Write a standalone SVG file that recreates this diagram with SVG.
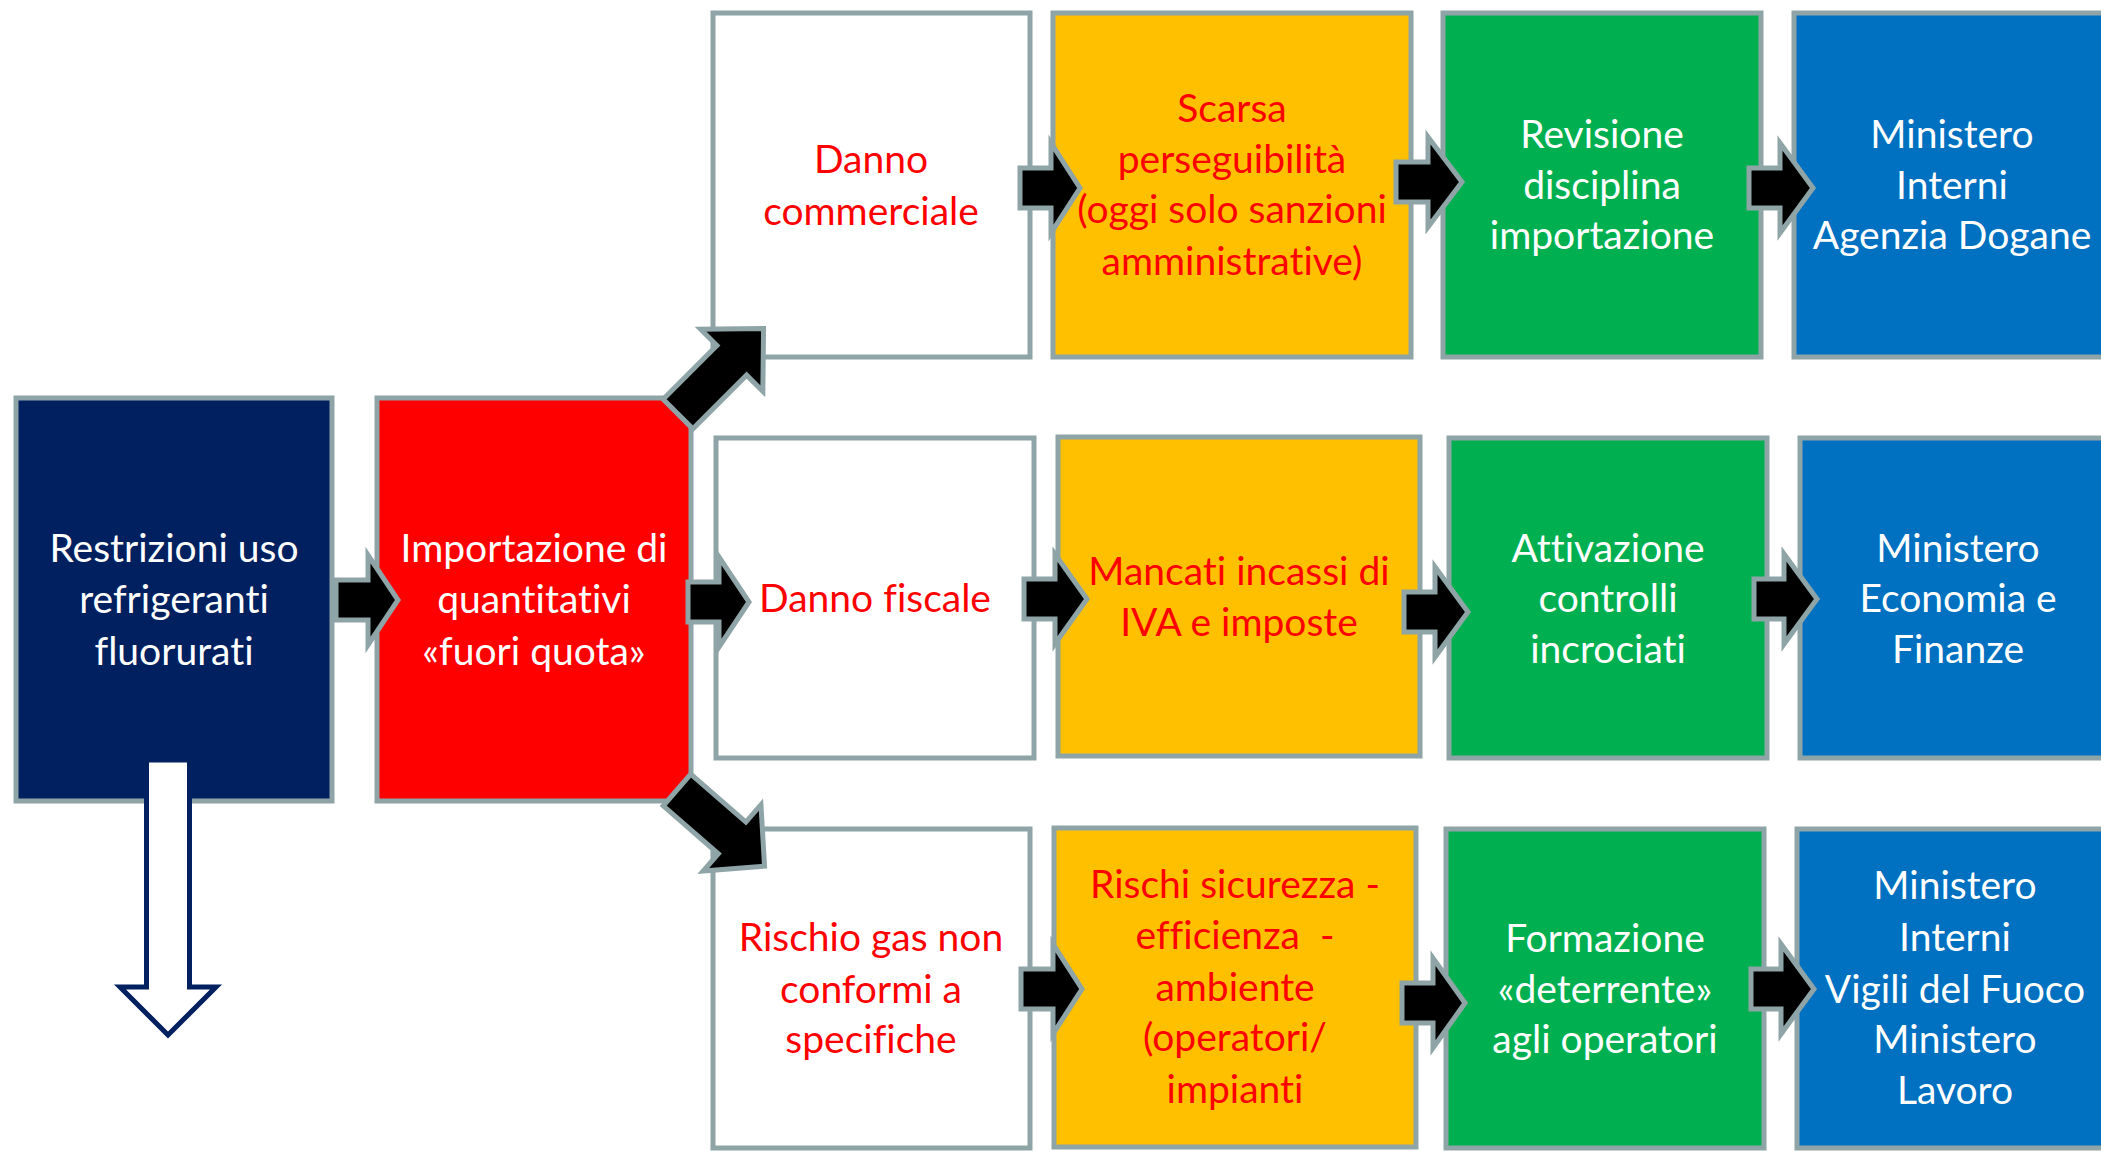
<svg xmlns="http://www.w3.org/2000/svg" width="2101" height="1151" viewBox="0 0 2101 1151">
<style>
.box{stroke:#8FA4A6;stroke-width:5}
.navy{fill:#002060}.red{fill:#FF0000}.white{fill:#FFFFFF}.orange{fill:#FFC000}.green{fill:#00B050}.blue{fill:#0070C0}
.arr{fill:#000000;stroke:#8FA4A6;stroke-width:5;stroke-linejoin:miter}
text{font-family:Lato,"Liberation Sans",sans-serif;font-size:39px;text-anchor:middle;font-variant-ligatures:none;font-feature-settings:"liga" 0,"clig" 0}
.tw{fill:#FFFFFF}.tr{fill:#FF0000}
</style>
<rect width="2101" height="1151" fill="#FFFFFF"/>

<g id="n-restrizioni">
<rect class="box navy" x="16" y="398" width="316" height="403"/>
<text class="tw"><tspan x="174" y="562">Restrizioni uso</tspan><tspan x="174" y="613">refrigeranti</tspan><tspan x="174" y="665">fluorurati</tspan></text>
</g>
<g id="n-importazione">
<rect class="box red" x="377" y="398" width="314" height="403"/>
<text class="tw"><tspan x="534" y="562">Importazione di</tspan><tspan x="534" y="613">quantitativi</tspan><tspan x="534" y="665">«fuori quota»</tspan></text>
</g>

<g id="n-danno-commerciale">
<rect class="box white" x="713" y="13" width="317" height="344"/>
<text class="tr"><tspan x="871" y="173">Danno</tspan><tspan x="871" y="225">commerciale</tspan></text>
</g>
<g id="n-scarsa">
<rect class="box orange" x="1053" y="13" width="358" height="344"/>
<text class="tr"><tspan x="1232" y="122">Scarsa</tspan><tspan x="1232" y="173">perseguibilità</tspan><tspan x="1232" y="223">(oggi solo sanzioni</tspan><tspan x="1232" y="275">amministrative)</tspan></text>
</g>
<g id="n-revisione">
<rect class="box green" x="1443" y="13" width="318" height="344"/>
<text class="tw"><tspan x="1602" y="148">Revisione</tspan><tspan x="1602" y="199">disciplina</tspan><tspan x="1602" y="249">importazione</tspan></text>
</g>
<g id="n-min-interni-dogane">
<rect class="box blue" x="1794" y="13" width="318" height="344"/>
<text class="tw"><tspan x="1952" y="148">Ministero</tspan><tspan x="1952" y="199">Interni</tspan><tspan x="1952" y="249">Agenzia Dogane</tspan></text>
</g>

<g id="n-danno-fiscale">
<rect class="box white" x="716" y="438" width="318" height="320"/>
<text class="tr"><tspan x="875" y="612">Danno fiscale</tspan></text>
</g>
<g id="n-mancati">
<rect class="box orange" x="1058" y="437" width="362" height="319"/>
<text class="tr"><tspan x="1239" y="585">Mancati incassi di</tspan><tspan x="1239" y="636">IVA e imposte</tspan></text>
</g>
<g id="n-attivazione">
<rect class="box green" x="1449" y="438" width="318" height="320"/>
<text class="tw"><tspan x="1608" y="562">Attivazione</tspan><tspan x="1608" y="612">controlli</tspan><tspan x="1608" y="663">incrociati</tspan></text>
</g>
<g id="n-min-economia">
<rect class="box blue" x="1800" y="438" width="318" height="320"/>
<text class="tw"><tspan x="1958" y="562">Ministero</tspan><tspan x="1958" y="612">Economia e</tspan><tspan x="1958" y="663">Finanze</tspan></text>
</g>

<g id="n-rischio-gas">
<rect class="box white" x="713" y="829" width="317" height="319"/>
<text class="tr"><tspan x="871" y="951">Rischio gas non</tspan><tspan x="871" y="1003">conformi a</tspan><tspan x="871" y="1053">specifiche</tspan></text>
</g>
<g id="n-rischi-sicurezza">
<rect class="box orange" x="1054" y="828" width="362" height="319"/>
<text class="tr" xml:space="preserve"><tspan x="1235" y="898">Rischi sicurezza -</tspan><tspan x="1235" y="949">efficienza  -</tspan><tspan x="1235" y="1001">ambiente</tspan><tspan x="1235" y="1051">(operatori/</tspan><tspan x="1235" y="1103">impianti</tspan></text>
</g>
<g id="n-formazione">
<rect class="box green" x="1446" y="829" width="318" height="319"/>
<text class="tw"><tspan x="1605" y="952">Formazione</tspan><tspan x="1605" y="1003">«deterrente»</tspan><tspan x="1605" y="1053">agli operatori</tspan></text>
</g>
<g id="n-min-interni-vvf">
<rect class="box blue" x="1797" y="829" width="318" height="319"/>
<text class="tw"><tspan x="1955" y="899">Ministero</tspan><tspan x="1955" y="951">Interni</tspan><tspan x="1955" y="1003">Vigili del Fuoco</tspan><tspan x="1955" y="1053">Ministero</tspan><tspan x="1955" y="1104">Lavoro</tspan></text>
</g>

<g id="connectors">
<path class="arr" d="M336,580 H368 V555 L398,600 L368,645 V620 H336 Z"/>
<path class="arr" d="M688,582 H719 V557 L749,602 L719,647 V622 H688 Z"/>
<path class="arr" d="M1020,168 H1051 V143 L1080,188 L1051,233 V208 H1020 Z"/>
<path class="arr" d="M1396,162 H1428 V137 L1462,182 L1428,227 V202 H1396 Z"/>
<path class="arr" d="M1749,168 H1780 V143 L1813,188 L1780,233 V208 H1749 Z"/>
<path class="arr" d="M1024,579 H1055 V554 L1087,599 L1055,644 V619 H1024 Z"/>
<path class="arr" d="M1404,592 H1435 V567 L1468,612 L1435,657 V632 H1404 Z"/>
<path class="arr" d="M1754,579 H1784 V554 L1817,599 L1784,644 V619 H1754 Z"/>
<path class="arr" d="M1021,969 H1053 V944 L1082,989 L1053,1034 V1009 H1021 Z"/>
<path class="arr" d="M1402,983 H1433 V958 L1465,1003 L1433,1048 V1023 H1402 Z"/>
<path class="arr" d="M1751,969 H1781 V944 L1814,989 L1781,1034 V1009 H1751 Z"/>
<path class="arr" transform="translate(678,414) rotate(-45)" d="M0,-21 H76 V-44 L121,0 L76,44 V21 H0 Z"/>
<path class="arr" transform="translate(677,790) rotate(41)" d="M0,-21 H73 V-44 L116,0 L73,44 V21 H0 Z"/>
<path fill="#FFFFFF" stroke="#002060" stroke-width="5" d="M146.5,760 H189.5 V987 H216 L168,1035 L120,987 H146.5 Z"/>
</g>
</svg>
